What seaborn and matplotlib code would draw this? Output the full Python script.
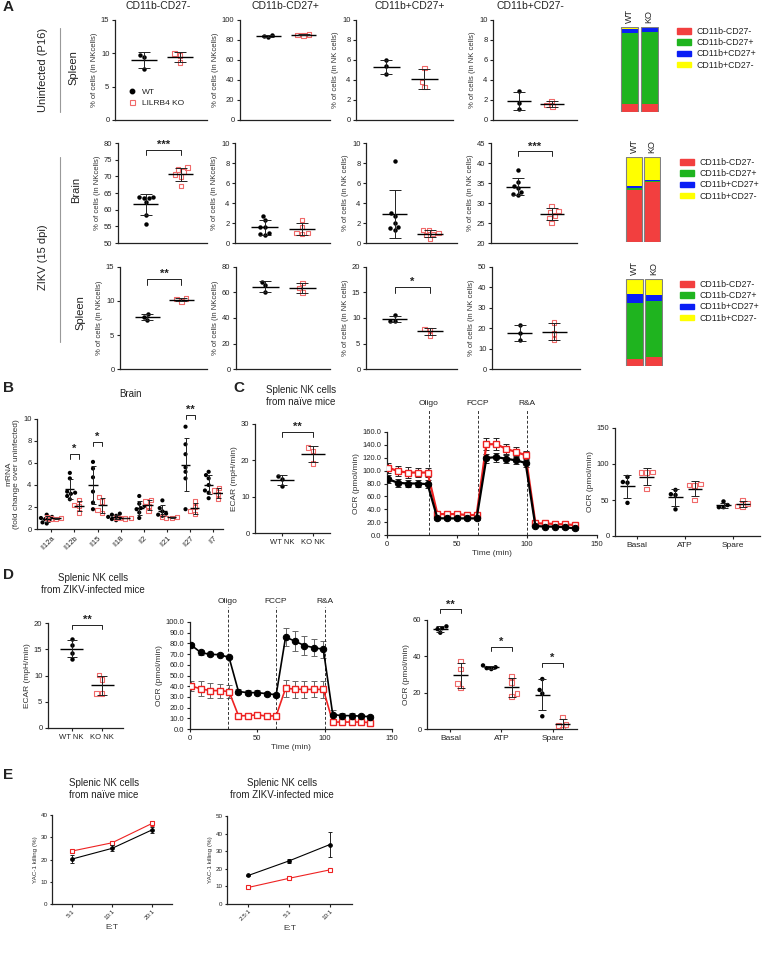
import numpy as np
import pandas as pd
import matplotlib.pyplot as plt
import seaborn as sns
from matplotlib.patches import Patch
from matplotlib.lines import Line2D
from matplotlib.ticker import StrMethodFormatter

# ---------------- data ----------------
genotypes = ["WT", "KO"]
subsets = ["CD11b-CD27-", "CD11b-CD27+", "CD11b+CD27+", "CD11b+CD27-"]

# A: % of NK cells, one list per subset
uninf_spleen_wt = [[9.8, 9.5, 7.7], [85.0, 82.5, 84.0], [6.0, 5.4, 4.6], [2.9, 1.7, 1.1]]
uninf_spleen_ko = [[10.0, 9.7, 8.6], [85.5, 84.5, 85.0], [5.2, 3.8, 3.3], [1.9, 1.35, 1.5]]
zikv_brain_wt = [[63.9, 63.6, 63.4, 63.7, 62.2, 58.5, 55.6], [2.7, 2.3, 1.6, 1.0, 0.8, 0.9, 1.6],
                 [8.2, 3.0, 2.7, 2.0, 1.6, 1.5, 1.3], [38.2, 35.3, 34.2, 33.8, 32.8, 32.2, 32.0]]
zikv_brain_ko = [[72.7, 72.0, 71.5, 70.5, 70.0, 67.1], [2.3, 1.6, 1.0, 1.0, 0.9],
                 [1.3, 1.3, 1.0, 0.9, 0.8, 0.4], [29.2, 28.0, 27.7, 26.9, 26.3, 25.0]]
zikv_spleen_wt = [[8.1, 7.7, 7.2], [68.0, 66.0, 60.0], [10.5, 9.5, 9.4], [21.4, 17.6, 14.0]]
zikv_spleen_ko = [[10.4, 10.3, 9.9], [67.5, 63.5, 60.0], [7.8, 6.6, 7.7], [22.8, 17.3, 14.5]]

# B: brain cytokine mRNA
genes = ["Il12a", "Il12b", "Il15", "Il18", "Il2", "Il21", "Il27", "Il7"]
mrna_wt = [[1.3, 1.0, 0.8, 0.6, 0.5, 1.1, 0.9], [4.6, 5.1, 3.4, 3.3, 3.0, 3.2, 2.7],
           [6.1, 5.5, 4.7, 3.4, 2.4, 1.8], [1.4, 1.3, 1.2, 1.0, 0.9, 0.8, 1.1],
           [3.0, 2.3, 2.1, 1.9, 1.8, 1.5, 1.0], [2.6, 1.9, 1.6, 1.4, 1.3, 1.2],
           [9.3, 7.7, 6.8, 5.6, 5.2, 4.6, 1.8], [5.2, 4.9, 4.6, 4.0, 3.5, 3.3, 2.8]]
mrna_ko = [[1.0, 0.9, 1.05, 0.95], [2.6, 2.2, 2.1, 1.5], [2.9, 2.5, 1.7, 1.45], [1.0, 0.95, 1.0, 1.05],
           [2.6, 2.5, 2.1, 1.6], [1.1, 1.0, 1.0, 1.1], [2.5, 2.0, 1.6, 1.4], [3.7, 3.5, 3.2, 2.7]]

# C / D: Seahorse
ecar_naive_wt = [15.6, 14.9, 13.0]
ecar_naive_ko = [23.5, 22.6, 19.1]
ecar_zikv_wt = [16.9, 15.9, 14.3, 13.2]
ecar_zikv_ko = [10.1, 9.2, 6.6, 6.6]

time_min = [1, 8, 15, 22, 29, 36, 43, 50, 57, 64, 71, 78, 85, 92, 99, 106, 113, 120, 127, 134]
ocr_naive_wt = [86.6, 81, 80, 80, 79, 26, 25.8, 25.8, 25.8, 25.8, 119.6, 121, 118.5, 116, 112, 14, 13, 13, 12, 10.3]
ocr_naive_wt_sd = [6, 6, 6, 6, 6, 3, 3, 3, 3, 3, 7, 7, 6, 6, 6, 2, 2, 2, 2, 2]
ocr_naive_ko = [104.6, 99, 97, 97, 97, 32.5, 32.5, 32.5, 31, 31, 141, 141, 134, 129, 124, 18, 18, 17, 16.5, 15.5]
ocr_naive_ko_sd = [8, 8, 8, 7, 7, 3, 3, 3, 3, 3, 9, 9, 8, 8, 7, 2, 2, 2, 2, 2]
ocr_zikv_wt = [78.3, 71.5, 69.7, 69.5, 66.9, 35.0, 34.0, 34.0, 33.0, 32.0, 86.0, 82.0, 78.0, 76.0, 74.5,
               13.5, 12.5, 12.5, 12.0, 11.5]
ocr_zikv_wt_sd = [2, 2, 1.5, 1.5, 1.5, 2.5, 2, 2, 2, 2, 8.5, 9.5, 9, 8, 8, 4, 2, 2, 2, 2]
ocr_zikv_ko = [40.2, 37.5, 35.9, 35.9, 35.0, 12.4, 12.4, 13.3, 12.0, 12.4, 38.1, 37.2, 37.0, 37.0, 37.0,
               6.5, 6.5, 6.5, 6.5, 6.0]
ocr_zikv_ko_sd = [5, 7, 7, 6.5, 6, 1.5, 1, 1, 1, 1, 8, 8, 8, 7.5, 8, 1, 1, 1, 1, 1]

ocr_params = ["Basal", "ATP", "Spare"]
param_naive_wt = [[82, 75, 74, 46], [64, 58, 57, 37], [48, 43, 40, 40]]
param_naive_ko = [[89, 88, 88, 65], [72, 71, 70, 50], [50, 45, 42, 41]]
param_zikv_wt = [[56.5, 55.5, 55.0, 53.0], [35.0, 34.0, 33.5, 33.0], [27.5, 21.5, 19.5, 7.0]]
param_zikv_ko = [[37.5, 33.0, 25.0, 22.5], [29.0, 25.5, 19.5, 18.0], [6.5, 2.5, 2.0, 0.0]]

# E: YAC-1 killing
et_naive = ["5:1", "10:1", "20:1"]
kill_naive_wt = [20.2, 25.0, 33.3]
kill_naive_wt_err = [1.6, 1.4, 1.3]
kill_naive_ko = [23.8, 27.5, 36.2]
kill_naive_ko_err = [0.8, 1.0, 1.0]
et_zikv = ["2.5:1", "5:1", "10:1"]
kill_zikv_wt = [16.2, 24.5, 33.8]
kill_zikv_wt_err = [0.3, 1.2, 7.2]
kill_zikv_ko = [9.4, 14.6, 19.4]
kill_zikv_ko_err = [0.3, 0.4, 0.5]

# ---------------- style ----------------
sns.set_theme(style="ticks")
plt.rcParams["font.family"] = ["Liberation Sans", "DejaVu Sans"]
plt.rcParams.update({
    "axes.linewidth": 0.9, "axes.edgecolor": "#222222",
    "xtick.major.width": 0.8, "ytick.major.width": 0.8,
    "xtick.major.size": 2.5, "ytick.major.size": 2.5,
    "xtick.labelsize": 5.5, "ytick.labelsize": 5.5, "axes.labelsize": 5.5,
    "xtick.major.pad": 1.5, "ytick.major.pad": 1.5, "axes.labelpad": 2,
    "text.color": "#222222", "xtick.color": "#222222", "ytick.color": "#222222",
    "axes.labelcolor": "#333333",
})
KO_RED = "#f06a6a"
LINE_RED = "#ee2222"
stack_colors = ["#f23f3f", "#1fb41f", "#0a1ef5", "#ffff00"]

W, H = 762, 973
fig = plt.figure(figsize=(W / 100, H / 100), dpi=100)


def box(l, t, r, b):
    return fig.add_axes([l / W, 1 - b / H, (r - l) / W, (b - t) / H])


def ftext(x, y, s, **kw):
    fig.text(x / W, 1 - y / H, s, **kw)


def finish(ax):
    sns.despine(ax=ax)
    ax.tick_params(length=2.5, width=0.8)


def mean_sd(ax, x, vals, half=0.36, cap=4.0):
    m, s = np.mean(vals), np.std(vals, ddof=1)
    ax.hlines(m, x - half, x + half, color="black", lw=1.0, zorder=4)
    ax.errorbar(x, m, yerr=s, fmt="none", ecolor="#222222", elinewidth=0.7,
                capsize=cap, capthick=0.7, zorder=4)


def hollow(ax, start):
    for c in ax.collections[start:]:
        c.set_facecolor("none")
        c.set_edgecolor(KO_RED)
        c.set_linewidth(0.8)


def dotplot(ax, wt, ko, ms=3.2, half=0.36, cap=4.0):
    df = pd.DataFrame({"g": ["WT"] * len(wt) + ["KO"] * len(ko), "v": list(wt) + list(ko)})
    sns.swarmplot(data=df[df.g == "WT"], x="g", y="v", order=genotypes, color="black",
                  size=ms, ax=ax, zorder=3)
    n = len(ax.collections)
    sns.swarmplot(data=df[df.g == "KO"], x="g", y="v", order=genotypes, color=KO_RED,
                  marker="s", size=ms, ax=ax, zorder=3)
    hollow(ax, n)
    for i, vals in enumerate([wt, ko]):
        mean_sd(ax, i, vals, half, cap)
    ax.set_xlabel("")


def grouped_dots(ax, cats, wt, ko, ms=3.0, half=0.16, cap=2.5):
    rows = []
    for c, a, b in zip(cats, wt, ko):
        rows += [(c, "WT", v) for v in a] + [(c, "KO", v) for v in b]
    df = pd.DataFrame(rows, columns=["cat", "g", "v"])
    pal = {"WT": "black", "KO": KO_RED}
    sns.swarmplot(data=df[df.g == "WT"], x="cat", y="v", hue="g", hue_order=genotypes,
                  order=cats, dodge=True, palette=pal, size=ms, ax=ax, legend=False, zorder=3)
    n = len(ax.collections)
    sns.swarmplot(data=df[df.g == "KO"], x="cat", y="v", hue="g", hue_order=genotypes,
                  order=cats, dodge=True, palette=pal, marker="s", size=ms, ax=ax,
                  legend=False, zorder=3)
    hollow(ax, n)
    for i in range(len(cats)):
        mean_sd(ax, i - 0.2, wt[i], half, cap)
        mean_sd(ax, i + 0.2, ko[i], half, cap)
    ax.set_xlabel("")


def bracket(ax, x1, x2, y, leg, text, fs=8):
    ax.plot([x1, x1, x2, x2], [y - leg, y, y, y - leg], color="#222222", lw=0.7, clip_on=False)
    ax.text((x1 + x2) / 2, y, text, ha="center", va="bottom", fontsize=fs, fontweight="bold")


# ---------------- panel A ----------------
a_rows = [
    (uninf_spleen_wt, uninf_spleen_ko, (20, 120),
     [(115, 207), (240, 330), (356, 453), (493, 577)],
     [range(0, 16, 5), range(0, 101, 20), range(0, 11, 2), range(0, 11, 2)]),
    (zikv_brain_wt, zikv_brain_ko, (143, 243),
     [(118, 207), (235, 330), (366, 457), (491, 577)],
     [range(50, 81, 5), range(0, 11, 2), range(0, 11, 2), range(20, 46, 5)]),
    (zikv_spleen_wt, zikv_spleen_ko, (267, 369),
     [(120, 207), (236, 330), (366, 457), (492, 580)],
     [range(0, 16, 5), range(0, 81, 20), range(0, 21, 5), range(0, 51, 10)]),
]
ylab = ["% of cells (in NKcells)", "% of cells (in NKcells)",
        "% of cells (in NK cells)", "% of cells (in NK cells)"]
a_sig = {(1, 0): (77.8, 1.5, "***"), (1, 3): (42.9, 1.2, "***"),
         (2, 0): (13.3, 0.9, "**"), (2, 2): (16.1, 1.2, "*")}
a_axes = {}
for r, (wt, ko, (top, bot), xs, yts) in enumerate(a_rows):
    for c in range(4):
        ax = box(xs[c][0], top, xs[c][1], bot)
        dotplot(ax, wt[c], ko[c])
        ax.set_xticks([])
        ax.set_xlim(-0.8, 1.75)
        yt = list(yts[c])
        ax.set_yticks(yt)
        ax.set_ylim(yt[0], yt[-1])
        ax.set_ylabel(ylab[c], fontsize=5.5)
        finish(ax)
        if (r, c) in a_sig:
            y, leg, t = a_sig[(r, c)]
            bracket(ax, 0, 1, y, leg, t)
        a_axes[(r, c)] = ax

a_axes[(0, 0)].legend(
    handles=[Line2D([], [], ls="none", marker="o", color="black", ms=3.2),
             Line2D([], [], ls="none", marker="s", mfc="none", mec=KO_RED, mew=0.8, ms=3.6)],
    labels=["WT", "LILRB4 KO"], loc="upper left", bbox_to_anchor=(127 / W, 1 - 88 / H),
    bbox_transform=fig.transFigure, frameon=False, fontsize=6, handletextpad=0.6,
    labelspacing=0.35, borderpad=0, borderaxespad=0, handlelength=1.2)

col_titles = [(158, "CD11b-CD27-"), (285, "CD11b-CD27+"), (410, "CD11b+CD27+"), (530, "CD11b+CD27-")]
for x, s in col_titles:
    ftext(x, 6, s, ha="center", va="center", fontsize=7.5)

# stacked composition bars
stack_boxes = [(620, 27, 659, 112), (625, 157, 661, 242), (625, 279, 663, 366)]
legend_pos = [(677, 27), (680, 158), (680, 280)]
for r, (wt, ko, _, _, _) in enumerate(a_rows):
    ax = box(*stack_boxes[r])
    means = np.array([[np.mean(v) for v in wt], [np.mean(v) for v in ko]])
    pct = means / means.sum(axis=1, keepdims=True) * 100
    bottom = np.zeros(2)
    for j in range(4):
        ax.bar([0, 1], pct[:, j], bottom=bottom, width=0.88, color=stack_colors[j], edgecolor="none")
        bottom += pct[:, j]
    ax.bar([0, 1], bottom, width=0.88, fill=False, edgecolor="#808080", lw=0.8)
    ax.set_xlim(-0.5, 1.5)
    ax.set_ylim(0, 100)
    ax.axis("off")
    for i, s in enumerate(["WT", "KO"]):
        ax.text(i, 1.05, s, transform=ax.get_xaxis_transform(), rotation=90,
                ha="center", va="bottom", fontsize=6.5)
    lx, ly = legend_pos[r]
    ax.legend(handles=[Patch(color=c) for c in stack_colors], labels=subsets,
              loc="upper left", bbox_to_anchor=(lx / W, 1 - ly / H), bbox_transform=fig.transFigure,
              frameon=False, fontsize=6.3, handlelength=1.6, handleheight=0.6,
              labelspacing=0.25, handletextpad=0.6, borderpad=0, borderaxespad=0)

# row labels
ftext(43, 70, "Uninfected (P16)", rotation=90, ha="center", va="center", fontsize=8)
ftext(73, 68, "Spleen", rotation=90, ha="center", va="center", fontsize=8)
ftext(43, 257, "ZIKV (15 dpi)", rotation=90, ha="center", va="center", fontsize=8)
ftext(76, 190, "Brain", rotation=90, ha="center", va="center", fontsize=8)
ftext(80, 313, "Spleen", rotation=90, ha="center", va="center", fontsize=8)
for y0, y1 in [(28, 112), (157, 342)]:
    fig.add_artist(Line2D([60 / W, 60 / W], [1 - y0 / H, 1 - y1 / H], color="#999999", lw=0.8))

# ---------------- panel B ----------------
ax = box(37, 419, 223, 529)
grouped_dots(ax, genes, mrna_wt, mrna_ko, ms=3.0, half=0.2, cap=1.8)
ax.set_xlim(-0.62, 7.42)
ax.set_ylim(0, 10)
ax.set_yticks(range(0, 11, 2))
ax.set_xticks(range(len(genes)))
ax.set_xticklabels(genes, rotation=45, ha="right", rotation_mode="anchor", fontsize=5.5)
ax.set_ylabel("mRNA\n(fold change over uninfected)", fontsize=6, linespacing=1.1)
finish(ax)
bracket(ax, 0.8, 1.2, 6.8, 0.4, "*")
bracket(ax, 1.8, 2.2, 7.9, 0.4, "*")
bracket(ax, 5.8, 6.2, 10.4, 0.4, "**")
ftext(130, 394, "Brain", ha="center", va="center", fontsize=7)

# ---------------- panel C ----------------
ftext(301, 396, "Splenic NK cells\nfrom naïve mice", ha="center", va="center", fontsize=7, linespacing=1.15)
ax = box(255, 424, 330, 533)
dotplot(ax, ecar_naive_wt, ecar_naive_ko, ms=3.2, half=0.38, cap=3.6)
ax.set_xlim(-0.87, 1.55)
ax.set_xticks([0, 1])
ax.set_xticklabels(["WT NK", "KO NK"], fontsize=5.5)
ax.set_ylim(0, 30)
ax.set_yticks([0, 10, 20, 30])
ax.set_ylabel("ECAR (mpH/min)", fontsize=6)
finish(ax)
bracket(ax, 0, 1, 27.8, 1.4, "**")


def timeline(ax, wt, wt_sd, ko, ko_sd, ms_sq, ms_c, lw, ecol, marks, top_ext):
    ax.errorbar(time_min, ko, yerr=ko_sd, fmt="none", ecolor=ecol, elinewidth=0.7, capsize=2.2, capthick=0.7)
    sns.lineplot(x=time_min, y=ko, color=LINE_RED, marker="s", markersize=ms_sq, markerfacecolor="white",
                 markeredgecolor=LINE_RED, markeredgewidth=1.0, lw=lw, errorbar=None, ax=ax, zorder=3)
    ax.errorbar(time_min, wt, yerr=wt_sd, fmt="none", ecolor=ecol, elinewidth=0.7, capsize=2.2, capthick=0.7)
    sns.lineplot(x=time_min, y=wt, color="black", marker="o", markersize=ms_c, markeredgecolor="black",
                 lw=lw, errorbar=None, ax=ax, zorder=4)
    for x, s in marks:
        ax.axvline(x, ymin=0, ymax=top_ext, color="#333333", lw=0.7, ls=(0, (3, 2)), clip_on=False)
        ax.text(x, top_ext + 0.02, s, transform=ax.get_xaxis_transform(), ha="center", va="bottom", fontsize=6)
    ax.set_xlim(0, 150)
    ax.set_xticks([0, 50, 100, 150])
    ax.set_xlabel("Time (min)", fontsize=6)
    ax.set_ylabel("OCR (pmol/min)", fontsize=6)
    ax.yaxis.set_major_formatter(StrMethodFormatter("{x:.1f}"))
    finish(ax)


ax = box(387, 432, 597, 535)
ax.set_ylim(0, 160)
ax.set_yticks(range(0, 161, 20))
timeline(ax, ocr_naive_wt, ocr_naive_wt_sd, ocr_naive_ko, ocr_naive_ko_sd, 5.0, 4.6, 1.6, "#222222",
         [(30, "Oligo"), (65, "FCCP"), (100, "R&A")], 1.22)
ax.set_ylim(0, 160)

ax = box(615, 428, 760, 536)
grouped_dots(ax, ocr_params, param_naive_wt, param_naive_ko, ms=3.2, half=0.15, cap=3)
ax.set_xlim(-0.46, 2.56)
ax.set_ylim(0, 150)
ax.set_yticks([0, 50, 100, 150])
ax.set_ylabel("OCR (pmol/min)", fontsize=6)
ax.tick_params(axis="x", labelsize=6)
finish(ax)

# ---------------- panel D ----------------
ftext(93, 584, "Splenic NK cells\nfrom ZIKV-infected mice", ha="center", va="center", fontsize=7, linespacing=1.15)
ax = box(48, 623, 123, 728)
dotplot(ax, ecar_zikv_wt, ecar_zikv_ko, ms=3.2, half=0.38, cap=3.6)
ax.set_xlim(-0.77, 1.68)
ax.set_xticks([0, 1])
ax.set_xticklabels(["WT NK", "KO NK"], fontsize=5.5)
ax.set_ylim(0, 20)
ax.set_yticks([0, 5, 10, 15, 20])
ax.set_ylabel("ECAR (mpH/min)", fontsize=6)
finish(ax)
bracket(ax, 0, 1, 19.7, 0.8, "**")

ax = box(190, 622, 392, 729)
ax.set_ylim(0, 100)
ax.set_yticks(range(0, 101, 10))
timeline(ax, ocr_zikv_wt, ocr_zikv_wt_sd, ocr_zikv_ko, ocr_zikv_ko_sd, 4.3, 4.6, 1.2, "#666666",
         [(28, "Oligo"), (64, "FCCP"), (100, "R&A")], 1.14)
ax.set_ylim(0, 100)

ax = box(427, 620, 577, 729)
grouped_dots(ax, ocr_params, param_zikv_wt, param_zikv_ko, ms=3.2, half=0.15, cap=3)
ax.set_xlim(-0.46, 2.48)
ax.set_ylim(0, 60)
ax.set_yticks([0, 20, 40, 60])
ax.set_ylabel("OCR (pmol/min)", fontsize=6)
ax.tick_params(axis="x", labelsize=6)
finish(ax)
bracket(ax, -0.2, 0.2, 65.8, 2.2, "**")
bracket(ax, 0.8, 1.2, 45.3, 2.2, "*")
bracket(ax, 1.8, 2.2, 36.2, 1.8, "*")

# ---------------- panel E ----------------
def killing(ax, labels, wt, wt_err, ko, ko_err, ymax):
    pos = list(range(len(labels)))
    ax.errorbar(pos, ko, yerr=ko_err, fmt="none", ecolor=LINE_RED, elinewidth=0.7, capsize=1.5, capthick=0.7)
    sns.lineplot(x=pos, y=ko, color=LINE_RED, marker="s", markersize=3, markerfacecolor="white",
                 markeredgecolor=LINE_RED, markeredgewidth=0.8, lw=0.8, errorbar=None, ax=ax)
    ax.errorbar(pos, wt, yerr=wt_err, fmt="none", ecolor="#222222", elinewidth=0.7, capsize=1.5, capthick=0.7)
    sns.lineplot(x=pos, y=wt, color="black", marker="o", markersize=2.6, markeredgecolor="black",
                 lw=0.8, errorbar=None, ax=ax)
    ax.set_xticks(pos)
    ax.set_xticklabels(labels, rotation=45, ha="right", rotation_mode="anchor", fontsize=4.5)
    ax.set_ylim(0, ymax)
    ax.set_yticks(range(0, ymax + 1, 10))
    ax.tick_params(axis="y", labelsize=4.5, length=1.8)
    ax.tick_params(axis="x", length=1.8)
    ax.set_xlabel("E:T", fontsize=6)
    ax.set_ylabel("YAC-1 killing (%)", fontsize=4.5)
    sns.despine(ax=ax)


ftext(104, 789, "Splenic NK cells\nfrom naïve mice", ha="center", va="center", fontsize=7, linespacing=1.15)
ax = box(52, 815, 172, 904)
killing(ax, et_naive, kill_naive_wt, kill_naive_wt_err, kill_naive_ko, kill_naive_ko_err, 40)
ax.set_xlim(-0.5, 2.5)

ftext(282, 789, "Splenic NK cells\nfrom ZIKV-infected mice", ha="center", va="center", fontsize=7, linespacing=1.15)
ax = box(227, 816, 352, 904)
killing(ax, et_zikv, kill_zikv_wt, kill_zikv_wt_err, kill_zikv_ko, kill_zikv_ko_err, 50)
ax.set_xlim(-0.52, 2.54)

# panel letters
for x, y, s in [(3, 7, "A"), (3, 388, "B"), (233, 388, "C"), (3, 575, "D"), (3, 775, "E")]:
    ftext(x, y, s, ha="left", va="center", fontsize=11, fontweight="bold")

fig.savefig("out.png", dpi=100)
